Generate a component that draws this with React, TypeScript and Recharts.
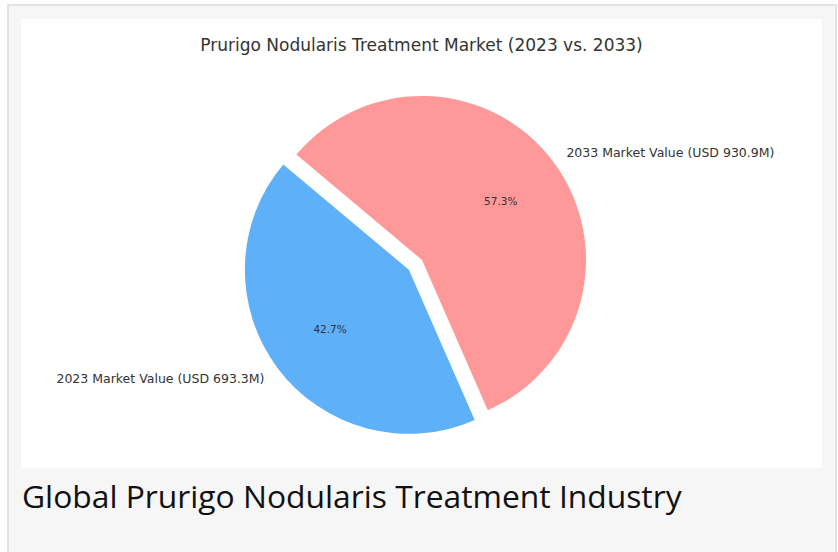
import { Pie, PieChart, Cell, Sector } from "recharts";

const names = ["2023 Market Value (USD 693.3M)", "2033 Market Value (USD 930.9M)"];
const values = [693.3, 930.9];
const colors = ["#5eb0f9", "#ff9999"];
const explode = [0.1, 0];

const data = names.map((name, i) => ({ name, value: values[i], explode: explode[i] }));

const RAD = Math.PI / 180;

function shiftedCenter(cx: number, cy: number, midAngle: number, r: number, ex: number) {
  return {
    x: cx + Math.cos(-midAngle * RAD) * r * ex,
    y: cy + Math.sin(-midAngle * RAD) * r * ex,
  };
}

function ExplodedSector(props: any) {
  const { cx, cy, midAngle, outerRadius, payload } = props;
  const ex = payload?.explode ?? props.explode ?? 0;
  const c = shiftedCenter(cx, cy, midAngle, outerRadius, ex);
  return <Sector {...props} cx={c.x} cy={c.y} />;
}

function renderLabel(props: any) {
  const { cx, cy, midAngle, outerRadius, percent, name, payload } = props;
  const ex = payload?.explode ?? 0;
  const c = shiftedCenter(cx, cy, midAngle, outerRadius, ex);
  const cos = Math.cos(-midAngle * RAD);
  const sin = Math.sin(-midAngle * RAD);
  const lx = c.x + cos * outerRadius * 1.1;
  const ly = c.y + sin * outerRadius * 1.1;
  const px = c.x + cos * outerRadius * 0.6;
  const py = c.y + sin * outerRadius * 0.6;
  return (
    <g>
      <text
        x={lx}
        y={ly + 1}
        textAnchor={cos >= 0 ? "start" : "end"}
        dominantBaseline="central"
        fontSize={12.5}
        fill="#333"
        fontFamily="DejaVu Sans"
      >
        {name}
      </text>
      <text
        x={px}
        y={py}
        textAnchor="middle"
        dominantBaseline="central"
        fontSize={10.5}
        fill="#333"
        fontFamily="DejaVu Sans"
      >
        {(percent * 100).toFixed(1)}%
      </text>
    </g>
  );
}

export default function App() {
  return (
    <div
      style={{
        position: "absolute",
        left: 0,
        top: 0,
        width: 838,
        height: 552,
        overflow: "hidden",
        fontFamily: "'Open Sans', sans-serif",
      }}
    >
      <div
        style={{
          position: "absolute",
          left: 7,
          top: 4,
          width: 826,
          height: 560,
          border: "2px solid #e3e3e3",
          background: "#f6f6f6",
        }}
      />
      <div style={{ position: "absolute", left: 21, top: 19, width: 801, height: 449, background: "#fff" }}>
        <PieChart width={801} height={449} margin={{ top: 0, right: 0, bottom: 0, left: 0 }}>
          <text
            x={400.5}
            y={26}
            textAnchor="middle"
            dominantBaseline="central"
            fontSize={17}
            fill="#333"
            fontFamily="DejaVu Sans"
          >
            Prurigo Nodularis Treatment Market (2023 vs. 2033)
          </text>
          <Pie
            data={data}
            dataKey="value"
            nameKey="name"
            cx={401}
            cy={241}
            outerRadius={164}
            startAngle={140}
            endAngle={500}
            stroke="none"
            labelLine={false}
            label={renderLabel}
            shape={ExplodedSector}
            isAnimationActive={false}
          >
            {data.map((d, i) => (
              <Cell key={d.name} fill={colors[i]} />
            ))}
          </Pie>
        </PieChart>
      </div>
      <div
        style={{
          position: "absolute",
          left: 22,
          top: 480,
          fontSize: 31.8,
          lineHeight: "32px",
          color: "#111",
          fontFamily: "'Open Sans'",
          whiteSpace: "nowrap",
        }}
      >
        Global Prurigo Nodularis Treatment Industry
      </div>
    </div>
  );
}
